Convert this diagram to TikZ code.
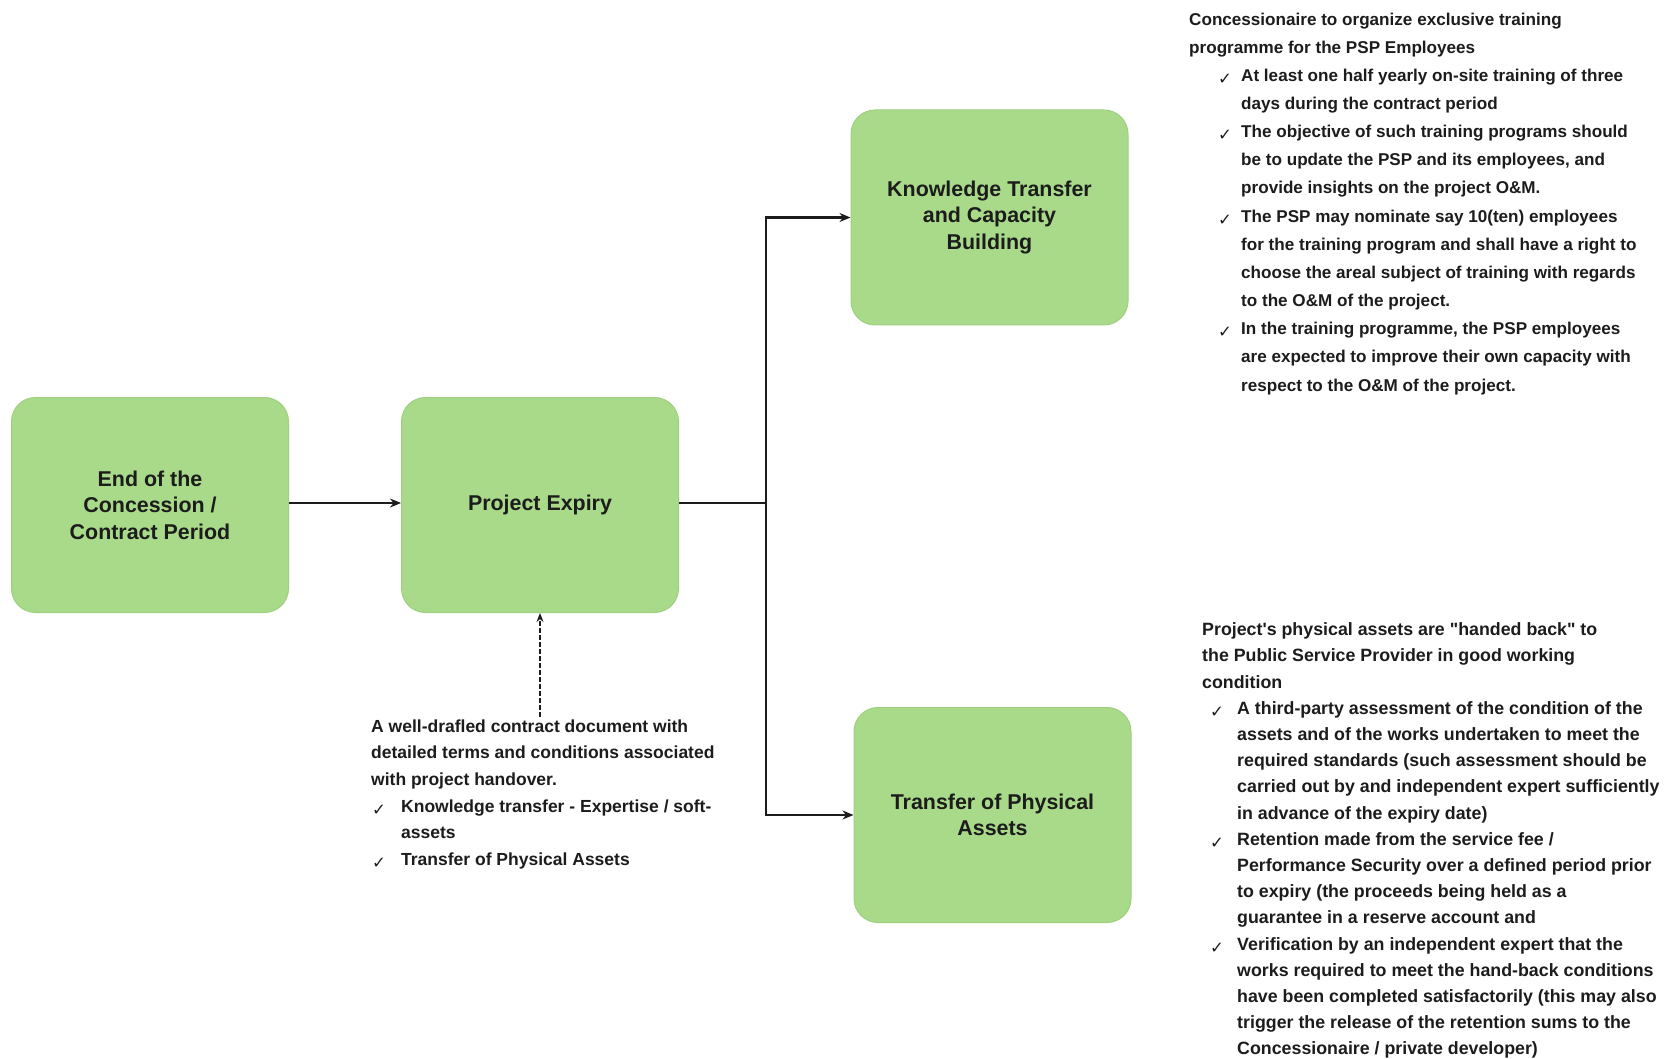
\documentclass[tikz,border=0pt]{standalone}
\usepackage{fontspec}
\setmainfont{Liberation Sans}[Ligatures=TeXOff]
\newfontfamily\symfont{DejaVu Sans}
\usetikzlibrary{arrows.meta}

\definecolor{boxgreen}{RGB}{168,218,138}
\definecolor{boxrim}{RGB}{158,208,128}
\definecolor{ink}{RGB}{28,28,28}

% check-mark bullet: #1 = indent of the tick, #2 = gap from tick to text
\newcommand{\itm}[2]{\hspace*{#1}\makebox[#2][l]{\raisebox{-3pt}{\symfont\fontsize{16.5}{16.5}\selectfont ✓}}}
\newcommand{\cnt}[1]{\hspace*{#1}}

\tikzset{
  stagebox/.style={draw=boxrim, line width=1pt, fill=boxgreen, rounded corners=24pt,
    minimum width=277pt, minimum height=215pt, align=center, text=ink,
    font=\bfseries\fontsize{21.4}{26.6}\selectfont},
  notes/.style={anchor=north west, inner sep=0pt, align=left, text=ink,
    font=\bfseries\fontsize{17.5}{26.6}\selectfont},
  flow/.style={line width=2.4pt, draw=ink, -{Stealth[length=11pt,width=9pt]}},
  link/.style={line width=2.4pt, draw=ink},
  hint/.style={line width=1.3pt, draw=ink, dash pattern=on 5pt off 2pt,
    -{Stealth[length=9pt,width=7pt]}}
}

\begin{document}
\begin{tikzpicture}[x=1pt, y=-1pt]
\useasboundingbox (0,0) rectangle (1668,1059);

% stages
\node[stagebox] (endp) at (150,505) {End of the\\Concession /\\Contract Period};
\node[stagebox] (expiry) at (540,505) {Project Expiry};
\node[stagebox] (ktb) at (989.5,217.5) {Knowledge Transfer\\and Capacity\\Building};
\node[stagebox] (tpa) at (992.5,815) {Transfer of Physical\\Assets};

% main flow
\coordinate (branch) at (766,503);
\draw[flow] (endp.east |- branch) -- (expiry.west |- branch);
\draw[link] (expiry.east |- branch) -- (branch);
\draw[flow] (branch) |- (ktb.west);
\draw[flow] (branch) |- (tpa.west);

% contract note below the expiry stage
\node[notes] (contract) at (371,719.5) {A well-drafled contract document with\\
detailed terms and conditions associated\\
with project handover.\\
\itm{1pt}{29pt}Knowledge transfer - Expertise / soft-\\
\cnt{30pt}assets\\
\itm{1pt}{29pt}Transfer of Physical Assets};
\draw[hint] (expiry.south |- contract.north) ++(0,-3) -- (expiry.south);

% training note
\node[notes, font=\bfseries\fontsize{17.1}{28.15}\selectfont] (training) at (1189,12.5) {Concessionaire to organize exclusive training\\
programme for the PSP Employees\\
\itm{29pt}{23pt}At least one half yearly on-site training of three\\
\cnt{52pt}days during the contract period\\
\itm{29pt}{23pt}The objective of such training programs should\\
\cnt{52pt}be to update the PSP and its employees, and\\
\cnt{52pt}provide insights on the project O\&M.\\
\itm{29pt}{23pt}The PSP may nominate say 10(ten) employees\\
\cnt{52pt}for the training program and shall have a right to\\
\cnt{52pt}choose the areal subject of training with regards\\
\cnt{52pt}to the O\&M of the project.\\
\itm{29pt}{23pt}In the training programme, the PSP employees\\
\cnt{52pt}are expected to improve their own capacity with\\
\cnt{52pt}respect to the O\&M of the project.};

% hand-back note
\node[notes, font=\bfseries\fontsize{17.8}{26.2}\selectfont] (handback) at (1202,622.5) {Project's physical assets are "handed back" to\\
the Public Service Provider in good working\\
condition\\
\itm{8pt}{27pt}A third-party assessment of the condition of the\\
\cnt{35pt}assets and of the works undertaken to meet the\\
\cnt{35pt}required standards (such assessment should be\\
\cnt{35pt}carried out by and independent expert sufficiently\\
\cnt{35pt}in advance of the expiry date)\\
\itm{8pt}{27pt}Retention made from the service fee /\\
\cnt{35pt}Performance Security over a defined period prior\\
\cnt{35pt}to expiry (the proceeds being held as a\\
\cnt{35pt}guarantee in a reserve account and\\
\itm{8pt}{27pt}Verification by an independent expert that the\\
\cnt{35pt}works required to meet the hand-back conditions\\
\cnt{35pt}have been completed satisfactorily (this may also\\
\cnt{35pt}trigger the release of the retention sums to the\\
\cnt{35pt}Concessionaire / private developer)};
\end{tikzpicture}
\end{document}
